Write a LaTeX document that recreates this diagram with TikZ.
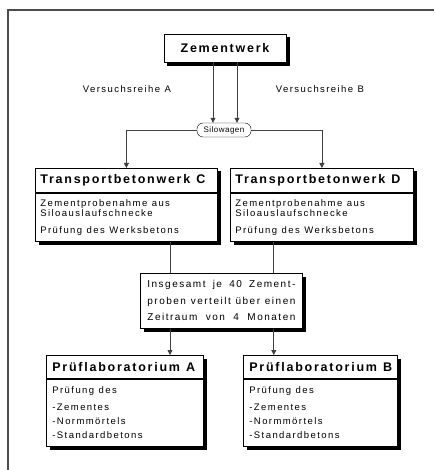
\documentclass[tikz,border=0pt]{standalone}
\usepackage{fontspec}
\setmainfont{Liberation Sans}[LetterSpace=15]
\usetikzlibrary{arrows.meta,backgrounds}
\newcommand{\titlefont}{\fontsize{12.5}{14}\selectfont\bfseries\addfontfeature{LetterSpace=14}}
\newcommand{\bodyfont}{\fontsize{9.5}{10}\selectfont\spaceskip=4.5pt plus 2pt minus 1pt\relax}
\newcommand{\insfont}{\fontsize{10}{10}\selectfont}
\newcommand{\silofont}{\fontsize{8}{9}\selectfont\addfontfeature{LetterSpace=6}}
\begin{document}
\begin{tikzpicture}[x=1pt,y=-1pt,
    box/.style={draw, line width=0.8pt, fill=white, anchor=north west, align=left, inner ysep=0pt},
    head/.style={box, font=\titlefont, inner xsep=5pt,
        execute at begin node={\spaceskip=6pt plus 2pt minus 1pt\relax}},
    body/.style={box, font=\bodyfont, inner xsep=5pt,
        execute at begin node={\spaceskip=4.5pt plus 2pt minus 1.5pt\relax}},
    note/.style={font=\bodyfont},
    line/.style={draw=black!75, line width=0.8pt},
    arr/.style={line, -{Triangle[width=5pt,length=5pt]}},
    shadowfill/.style={fill=black}]
    \useasboundingbox (0,0) rectangle (434,470);
    \draw[black!70, line width=1.2pt] (8,470) -- (8,10) -- (434,10);

    \node[head, anchor=center, align=center, minimum width=122pt, minimum height=28pt] (zem) at (225,48) {Zementwerk};
    \node[note] (vA) at (127,89) {Versuchsreihe A};
    \node[note] (vB) at (320,89) {Versuchsreihe B};
    \node[draw, fill=white, rounded corners=6pt, font=\silofont, minimum width=54pt, minimum height=14pt, inner sep=1pt] (silo) at (224,130) {Silowagen};

    % Transportbetonwerke
    \node[head, text width=172pt, minimum height=24pt] (tC) at (35,168) {\mbox{Transportbetonwerk C}};
    \node[body, text width=172pt, minimum height=48pt] (bC) at (tC.south west) {Zementprobenahme aus\\Siloauslaufschnecke\\[7pt]Prüfung des Werksbetons};
    \node[head, text width=173pt, minimum height=24pt] (tD) at (230,168) {\mbox{Transportbetonwerk D}};
    \node[body, text width=173pt, minimum height=48pt] (bD) at (tD.south west) {Zementprobenahme aus\\Siloauslaufschnecke\\[7pt]Prüfung des Werksbetons};

    \node[body, font=\insfont, text width=148pt, inner xsep=7pt, minimum height=55pt] (ins) at (140,273) {\makebox[148pt][s]{Insgesamt je 40 Zement-}\\[6.5pt]\makebox[148pt][s]{proben verteilt über einen}\\[6.5pt]\makebox[148pt][s]{Zeitraum von 4 Monaten}};

    % Prueflaboratorien
    \node[head, text width=145pt, inner xsep=6pt, minimum height=23pt] (tA) at (46,355) {\mbox{Prüflaboratorium A}};
    \node[body, text width=145pt, inner xsep=6pt, minimum height=67pt] (bA) at (tA.south west) {Prüfung des\\[7pt]-Zementes\\[4pt]-Normmörtels\\[4pt]-Standardbetons};
    \node[head, text width=142pt, inner xsep=6pt, minimum height=23pt] (tB) at (243,355) {\mbox{Prüflaboratorium B}};
    \node[body, text width=142pt, inner xsep=6pt, minimum height=67pt] (bB) at (tB.south west) {Prüfung des\\[7pt]-Zementes\\[4pt]-Normmörtels\\[4pt]-Standardbetons};

    \begin{scope}[on background layer]
    \foreach \a/\b in {zem/zem, tC/bC, tD/bD, ins/ins, tA/bA, tB/bB}
    \fill[shadowfill] ([shift={(3.5,3.5)}]\a.north west) rectangle ([shift={(3.5,3.5)}]\b.south east);
    \end{scope}

    \draw[arr] ([xshift=-12pt]zem.south) -- ([xshift=-12pt]zem.south |- silo.north);
    \draw[arr] ([xshift=12pt]zem.south) -- ([xshift=12pt]zem.south |- silo.north);
    \draw[arr] (silo.west) -| (tC.north);
    \draw[arr] (silo.east) -| (tD.north);
    \draw[line] ([xshift=30pt]ins.north west |- bC.south) -- ([xshift=30pt]ins.north west);
    \draw[line] ([xshift=-29pt]ins.north east |- bD.south) -- ([xshift=-29pt]ins.north east);
    \draw[arr] ([xshift=30pt]ins.south west) -- ([xshift=30pt]ins.south west |- tA.north);
    \draw[arr] ([xshift=-29pt]ins.south east) -- ([xshift=-29pt]ins.south east |- tB.north);
\end{tikzpicture}
\end{document}
